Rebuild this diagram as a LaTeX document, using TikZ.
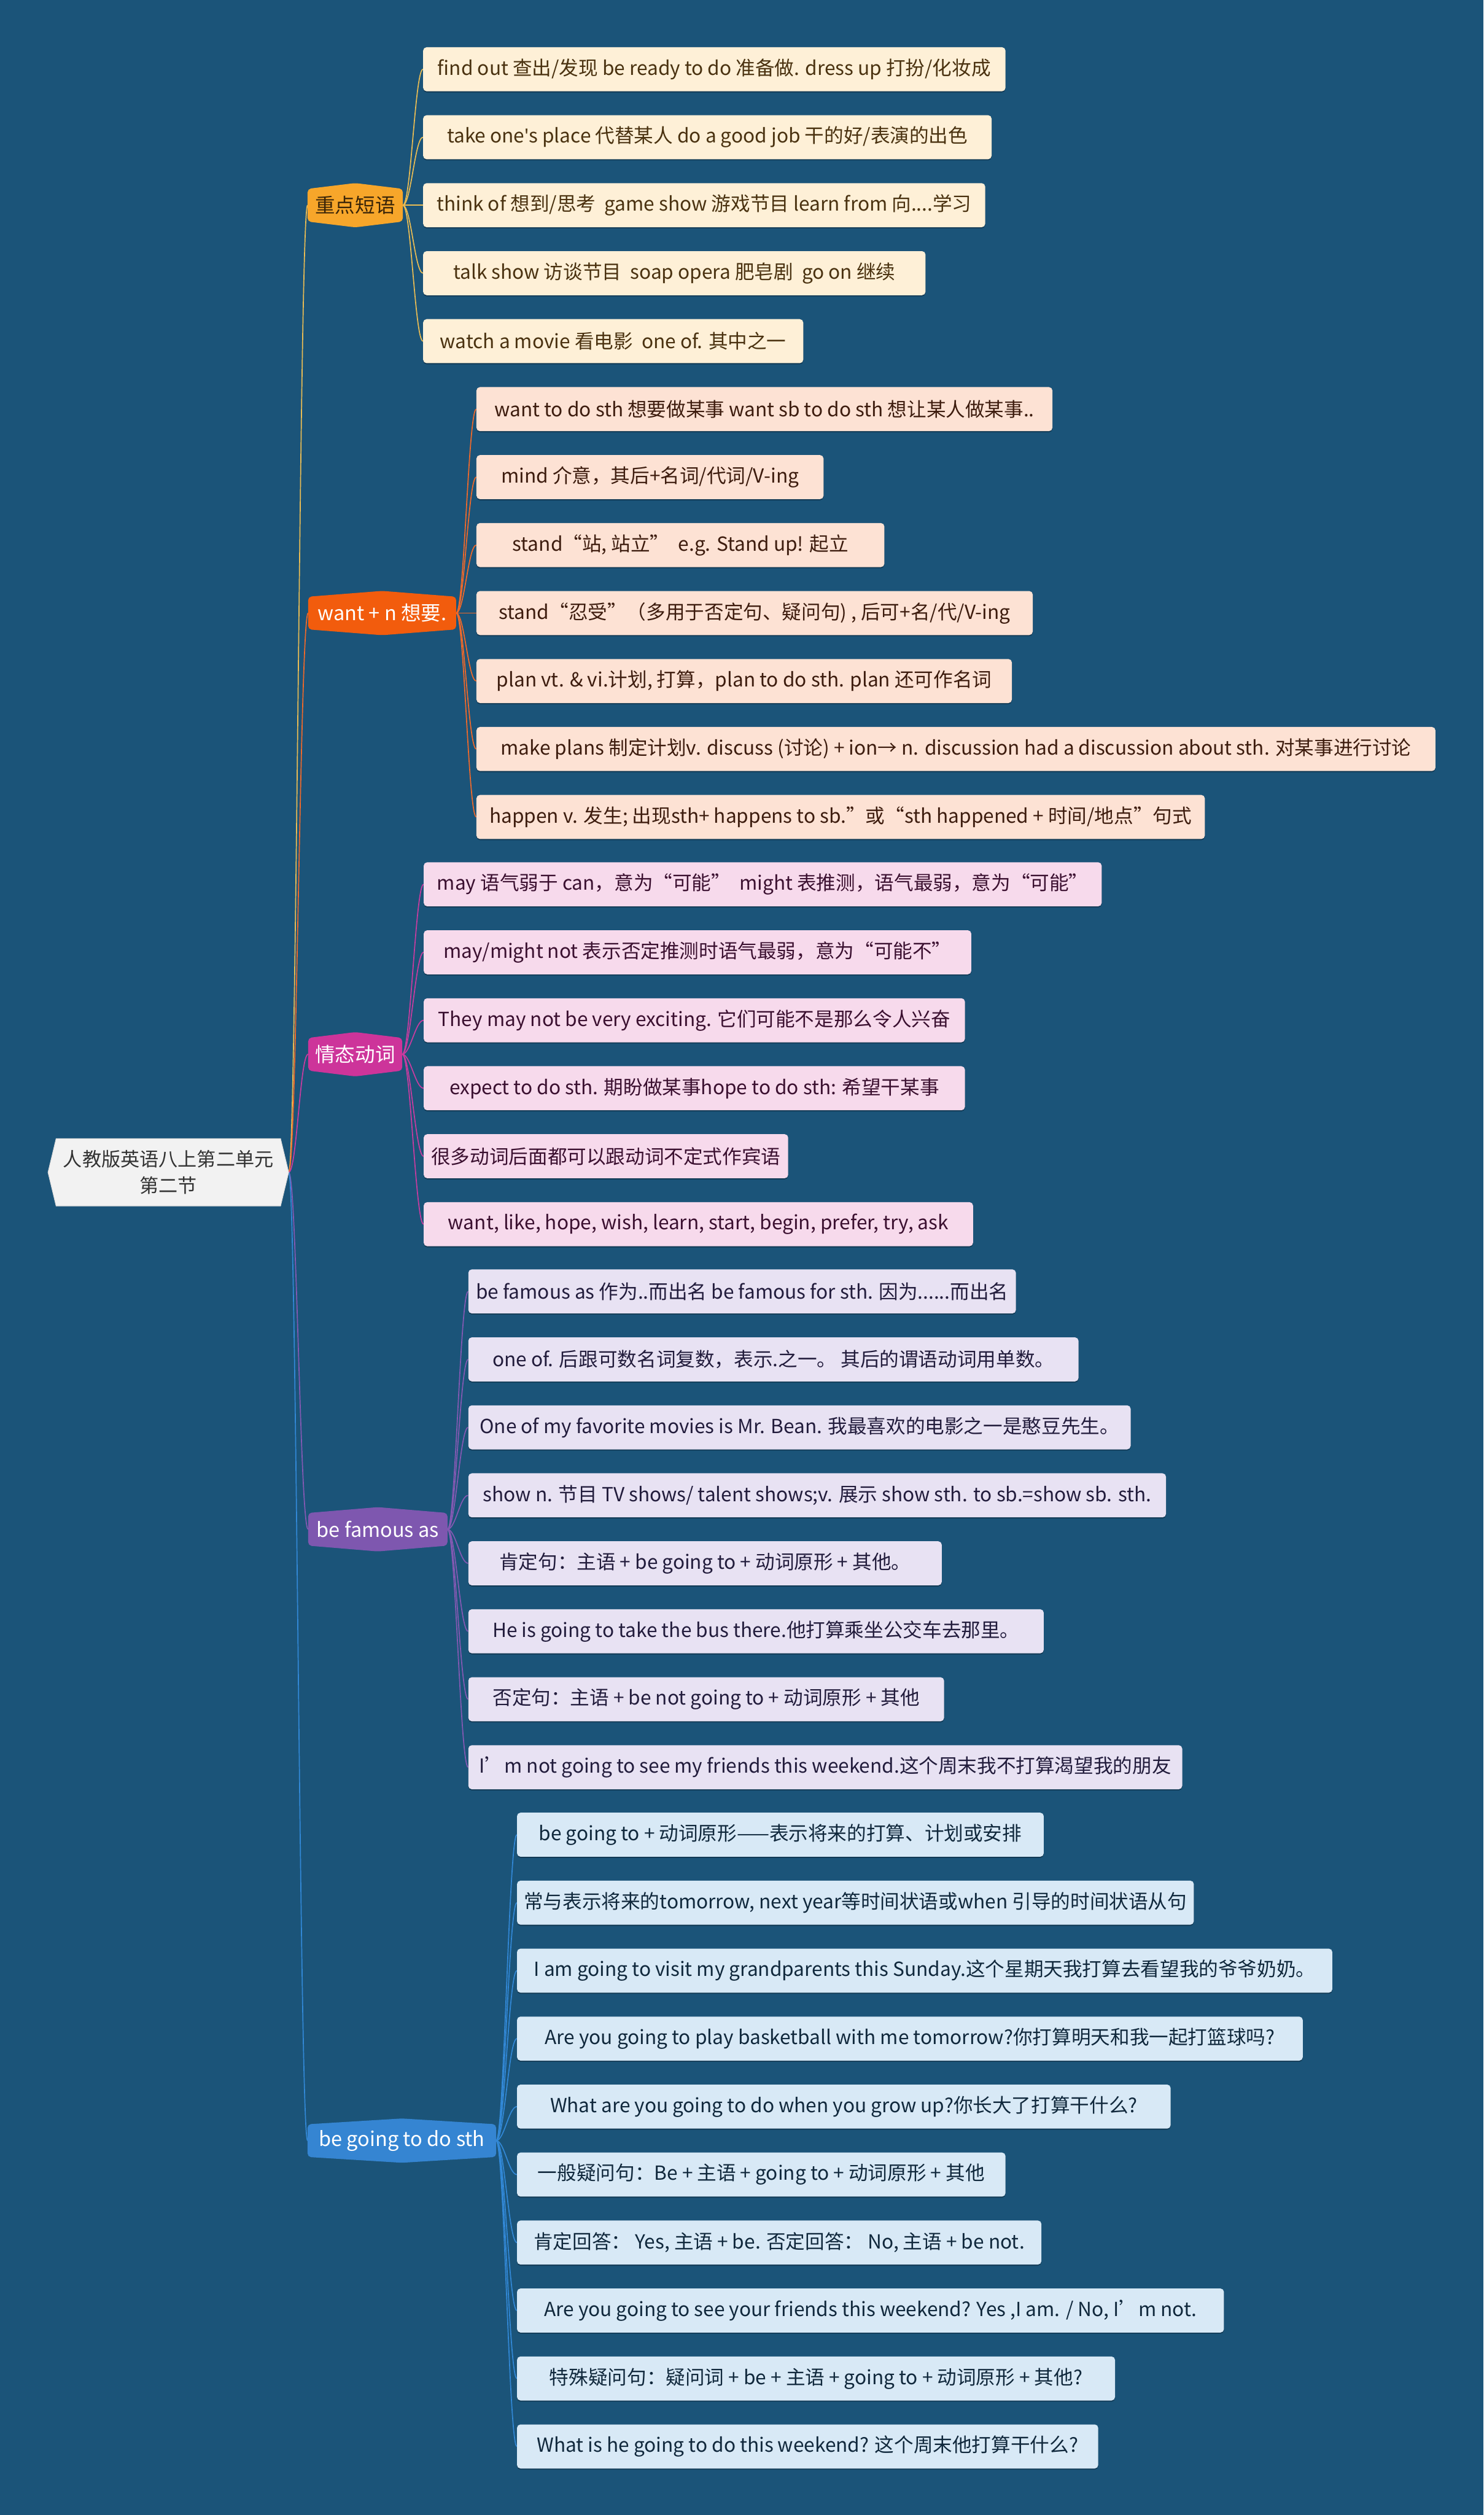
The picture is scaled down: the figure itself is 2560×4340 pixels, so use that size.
\documentclass[tikz,border=0pt]{standalone}
\usepackage{fontspec}
\setmainfont{Noto Sans CJK SC}
\newfontfamily\latinfont{Noto Sans}
\usetikzlibrary{calc}
\definecolor{bgc}{HTML}{1B5479}
\definecolor{shadowc}{HTML}{123A55}
\definecolor{rootfill}{HTML}{F2F2F2}
\definecolor{rootedge}{HTML}{D8D8D8}
\definecolor{roottext}{HTML}{333333}
\definecolor{lfA}{HTML}{FEF0D7}\definecolor{ltA}{HTML}{4A3210}
\definecolor{lfB}{HTML}{FDE2D4}\definecolor{ltB}{HTML}{3D1C0E}
\definecolor{lfC}{HTML}{F7DAEC}\definecolor{ltC}{HTML}{3B1030}
\definecolor{lfD}{HTML}{E8E2F3}\definecolor{ltD}{HTML}{221C3C}
\definecolor{lfE}{HTML}{D8E9F6}\definecolor{ltE}{HTML}{10283C}
\definecolor{bfA}{HTML}{F7A62A}\definecolor{btA}{HTML}{3A2508}
\definecolor{bfB}{HTML}{F25C0D}
\definecolor{bfC}{HTML}{CD349A}
\definecolor{bfD}{HTML}{7E57AF}
\definecolor{bfE}{HTML}{3585D2}
\definecolor{lcA}{HTML}{E9BC54}
\definecolor{lcB}{HTML}{F0692A}
\definecolor{lcC}{HTML}{C83CA0}
\definecolor{lcD}{HTML}{8459B3}
\definecolor{lcE}{HTML}{3288D6}
\pgfdeclarelayer{bglayer}
\pgfdeclarelayer{linelayer}
\pgfsetlayers{bglayer,linelayer,main}
\tikzset{
  leaf/.style={rounded corners=6, minimum height=76, inner xsep=10, inner ysep=0, anchor=west, font=\fontsize{33.5}{40}\selectfont,
    preaction={fill=shadowc, transform canvas={yshift=-2pt}}},
  grA/.style={leaf, fill=lfA, text=ltA},
  grB/.style={leaf, fill=lfB, text=ltB},
  grC/.style={leaf, fill=lfC, text=ltC},
  grD/.style={leaf, fill=lfD, text=ltD},
  grE/.style={leaf, fill=lfE, text=ltE},
  br/.style={minimum height=76, inner sep=0, font=\fontsize{34.5}{40}\selectfont},
  rootn/.style={minimum width=415, minimum height=116, inner sep=0, align=center, text=roottext, font=\fontsize{33}{46}\selectfont},
  conn/.style={line width=1.8},
}
\newcommand\hexfill[2]{%
  \fill[#2, rounded corners=6] ($(#1.north west)+(0,10)$) -- (#1.north) -- ($(#1.north east)+(0,10)$) -- ($(#1.south east)+(0,-10)$) -- (#1.south) -- ($(#1.south west)+(0,-10)$) -- cycle;}
\newcommand\linkto[3]{\draw[conn, #1] (#2.east) .. controls +(14,0) and +(-14,0) .. (#3.west);}
\begin{document}
\begin{tikzpicture}[x=1pt,y=-1pt]
\begin{pgfonlayer}{bglayer}
\useasboundingbox (0,0) rectangle (2560,4340);
\fill[bgc] (0,0) rectangle (2560,4340);
\end{pgfonlayer}

% root
\node[rootn] (root) at (290.5,2023) {人教版英语八上第二单元\\第二节};

% branches
\node[br, minimum width=164, text=btA] (b1) at (613,354.1) {重点短语};
\node[br, minimum width=255, text=white] (b2) at (659.5,1057.9) {want + n 想要.};
\node[br, minimum width=162, text=white] (b3) at (613,1819.25) {情态动词};
\node[br, minimum width=240, text=white] (b4) at (652,2639) {be famous as};
\node[br, minimum width=325, text=white] (b5) at (693.5,3693.9) {be going to do sth};

% group A
\node[grA, minimum width=1005] (a1) at (730,119.5) {find out 查出/发现 be ready to do 准备做. dress up 打扮/化妆成};
\node[grA, minimum width=981] (a2) at (730,236.8) {take one{\latinfont'}s place 代替某人 do a good job 干的好/表演的出色};
\node[grA, minimum width=970] (a3) at (730,354.1) {think of 想到/思考 \ game show 游戏节目 learn from 向....学习};
\node[grA, minimum width=867] (a4) at (730,471.4) {talk show 访谈节目 \ soap opera 肥皂剧 \ go on 继续};
\node[grA, minimum width=656] (a5) at (730,588.7) {watch a movie 看电影 \ one of. 其中之一};

% group B
\node[grB, minimum width=994] (c1) at (822,706) {want to do sth 想要做某事 want sb to do sth 想让某人做某事..};
\node[grB, minimum width=599] (c2) at (822,823.3) {mind 介意，其后+名词/代词/V-ing};
\node[grB, minimum width=704] (c3) at (822,940.6) {stand“站, 站立” \ e.g. Stand up! 起立};
\node[grB, minimum width=960] (c4) at (822,1057.9) {stand“忍受”（多用于否定句、疑问句) , 后可+名/代/V-ing};
\node[grB, minimum width=924] (c5) at (822,1175.2) {plan vt. \& vi.计划, 打算，plan to do sth. plan 还可作名词};
\node[grB, minimum width=1655] (c6) at (822,1292.5) {make plans 制定计划v. discuss (讨论) + ion→ n. discussion had a discussion about sth. 对某事进行讨论};
\node[grB, minimum width=1257] (c7) at (822,1409.8) {happen v. 发生; 出现sth+ happens to sb.”或“sth happened + 时间/地点”句式};

% group C
\node[grC, minimum width=1170] (d1) at (731,1526) {may 语气弱于 can，意为“可能” \ might 表推测，语气最弱，意为“可能”};
\node[grC, minimum width=945] (d2) at (731,1643.3) {may/might not 表示否定推测时语气最弱，意为“可能不”};
\node[grC, minimum width=934] (d3) at (731,1760.6) {They may not be very exciting. 它们可能不是那么令人兴奋};
\node[grC, minimum width=934] (d4) at (731,1877.9) {expect to do sth. 期盼做某事hope to do sth: 希望干某事};
\node[grC, minimum width=629] (d5) at (731,1995.2) {很多动词后面都可以跟动词不定式作宾语};
\node[grC, minimum width=948] (d6) at (731,2112.5) {want, like, hope, wish, learn, start, begin, prefer, try, ask};

% group D
\node[grD, minimum width=945] (e1) at (808,2228.5) {be famous as 作为..而出名 be famous for sth. 因为......而出名};
\node[grD, minimum width=1053] (e2) at (808,2345.8) {one of. 后跟可数名词复数，表示.之一。 其后的谓语动词用单数。};
\node[grD, minimum width=1143] (e3) at (808,2463.1) {One of my favorite movies is Mr. Bean. 我最喜欢的电影之一是憨豆先生。};
\node[grD, minimum width=1204] (e4) at (808,2580.4) {show n. 节目 TV shows/ talent shows;v. 展示 show sth. to sb.=show sb. sth.};
\node[grD, minimum width=817] (e5) at (808,2697.7) {肯定句：主语 + be going to + 动词原形 + 其他。};
\node[grD, minimum width=993] (e6) at (808,2815) {He is going to take the bus there.他打算乘坐公交车去那里。};
\node[grD, minimum width=821] (e7) at (808,2932.3) {否定句：主语 + be not going to + 动词原形 + 其他};
\node[grD, minimum width=1232] (e8) at (808,3049.6) {I’m not going to see my friends this weekend.这个周末我不打算渴望我的朋友};

% group E
\node[grE, minimum width=909] (f1) at (892,3166) {be going to + 动词原形——表示将来的打算、计划或安排};
\node[grE, minimum width=1168] (f2) at (892,3283.3) {常与表示将来的tomorrow, next year等时间状语或when 引导的时间状语从句};
\node[grE, minimum width=1407] (f3) at (892,3400.6) {I am going to visit my grandparents this Sunday.这个星期天我打算去看望我的爷爷奶奶。};
\node[grE, minimum width=1356] (f4) at (892,3517.9) {Are you going to play basketball with me tomorrow?你打算明天和我一起打篮球吗?};
\node[grE, minimum width=1128] (f5) at (892,3635.2) {What are you going to do when you grow up?你长大了打算干什么?};
\node[grE, minimum width=843] (f6) at (892,3752.5) {一般疑问句：Be + 主语 + going to + 动词原形 + 其他};
\node[grE, minimum width=905] (f7) at (892,3869.8) {肯定回答： Yes, 主语 + be. 否定回答： No, 主语 + be not.};
\node[grE, minimum width=1220] (f8) at (892,3987.1) {Are you going to see your friends this weekend? Yes ,I am. / No, I’m not.};
\node[grE, minimum width=1032] (f9) at (892,4104.4) {特殊疑问句：疑问词 + be + 主语 + going to + 动词原形 + 其他?};
\node[grE, minimum width=1003] (f10) at (892,4221.7) {What is he going to do this weekend? 这个周末他打算干什么?};

\begin{pgfonlayer}{linelayer}
% root to branches
\linkto{lcA}{root}{b1}
\linkto{lcB}{root}{b2}
\linkto{lcC}{root}{b3}
\linkto{lcD}{root}{b4}
\linkto{lcE}{root}{b5}
% branches to leaves
\foreach \n in {a1,a2,a3,a4,a5} {\linkto{lcA}{b1}{\n}}
\foreach \n in {c1,c2,c3,c4,c5,c6,c7} {\linkto{lcB}{b2}{\n}}
\foreach \n in {d1,d2,d3,d4,d5,d6} {\linkto{lcC}{b3}{\n}}
\foreach \n in {e1,e2,e3,e4,e5,e6,e7,e8} {\linkto{lcD}{b4}{\n}}
\foreach \n in {f1,f2,f3,f4,f5,f6,f7,f8,f9,f10} {\linkto{lcE}{b5}{\n}}
% branch shapes
\hexfill{b1}{bfA}
\hexfill{b2}{bfB}
\hexfill{b3}{bfC}
\hexfill{b4}{bfD}
\hexfill{b5}{bfE}
% root shape
\filldraw[fill=rootfill, draw=rootedge, line width=1] ($(root.north west)+(14,0)$) -- ($(root.north east)+(-14,0)$) -- (root.east) -- ($(root.south east)+(-14,0)$) -- ($(root.south west)+(14,0)$) -- (root.west) -- cycle;
\end{pgfonlayer}
\end{tikzpicture}
\end{document}
